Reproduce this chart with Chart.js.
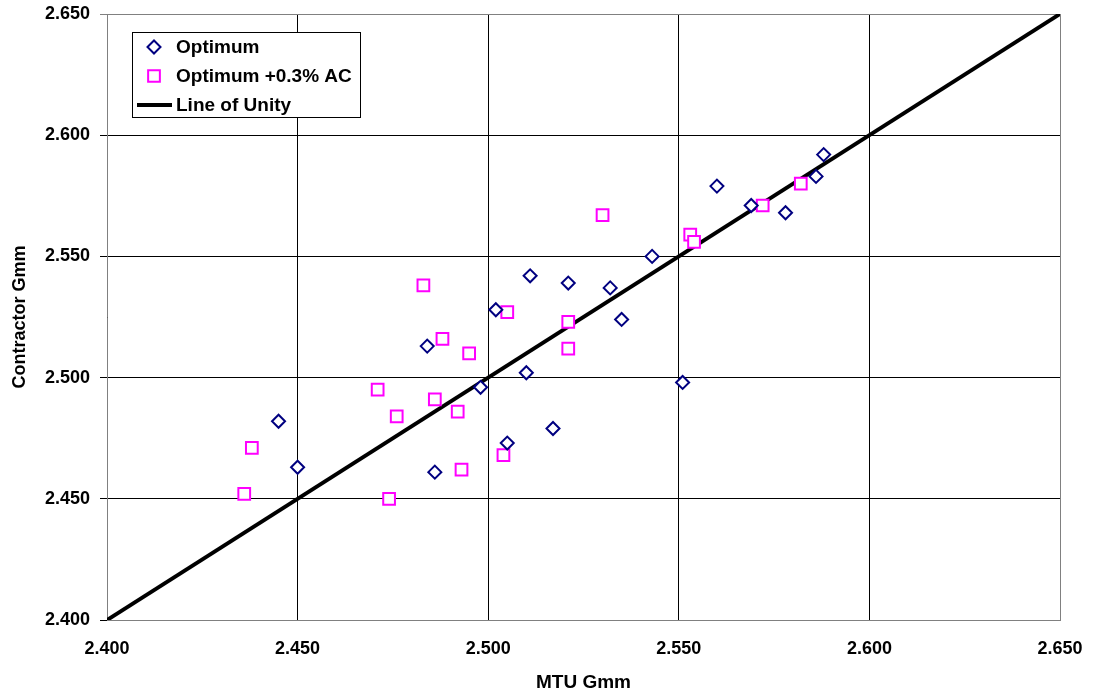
<!DOCTYPE html>
<html>
<head>
<meta charset="utf-8">
<script src="https://cdn.jsdelivr.net/npm/chart.js@4"></script>
<style>
  html, body { margin: 0; padding: 0; background: #fff; }
  #wrap { width: 1093px; height: 696px; position: relative; }
</style>
</head>
<body>
<div id="wrap"><canvas id="gmmChart"></canvas></div>
<script>
// Optimum (diamonds)
const optimumX = [2.445, 2.450, 2.486, 2.484, 2.498, 2.502, 2.505, 2.510, 2.511, 2.517,
                  2.521, 2.532, 2.535, 2.543, 2.551, 2.560, 2.569, 2.578, 2.586, 2.588];
const optimumY = [2.482, 2.463, 2.461, 2.513, 2.496, 2.528, 2.473, 2.502, 2.542, 2.479,
                  2.539, 2.537, 2.524, 2.550, 2.498, 2.579, 2.571, 2.568, 2.583, 2.592];

// Optimum +0.3% AC (squares)
const plusX = [2.436, 2.438, 2.471, 2.474, 2.476, 2.483, 2.486, 2.488, 2.492, 2.493,
               2.495, 2.504, 2.505, 2.521, 2.521, 2.530, 2.553, 2.554, 2.572, 2.582];
const plusY = [2.452, 2.471, 2.495, 2.450, 2.484, 2.538, 2.491, 2.516, 2.486, 2.462,
               2.510, 2.468, 2.527, 2.523, 2.512, 2.567, 2.559, 2.556, 2.571, 2.580];

// Line of unity end points
const unityX = [2.400, 2.650];
const unityY = [2.400, 2.650];

// Axis ticks
const tickValues = [2.400, 2.450, 2.500, 2.550, 2.600, 2.650];

const toPoints = (xs, ys) => xs.map((x, i) => ({ x: x, y: ys[i] }));

const tickFont = { family: 'Liberation Sans, Arial, sans-serif', size: 18, weight: 'bold' };
const xTitleFont = { family: 'Liberation Sans, Arial, sans-serif', size: 19, weight: 'bold' };
const yTitleFont = { family: 'Liberation Sans, Arial, sans-serif', size: 18, weight: 'bold' };

const edgeGray = '#808080';
function gridColor(ctx) {
  // outer frame lines are gray, inner grid black
  const v = ctx.tick ? ctx.tick.value : null;
  if (v !== null && Math.abs(v - 2.65) < 1e-6) return edgeGray;
  return '#000000';
}

// Legend box drawn inside the plot area, like the original
const insideLegend = {
  id: 'insideLegend',
  afterDraw(chart) {
    const ctx = chart.ctx;
    const boxX = 132, boxY = 32, boxW = 228, boxH = 85;
    ctx.save();
    ctx.fillStyle = '#ffffff';
    ctx.fillRect(boxX, boxY, boxW, boxH);
    ctx.strokeStyle = '#000000';
    ctx.lineWidth = 1;
    ctx.strokeRect(boxX + 0.5, boxY + 0.5, boxW, boxH);

    const items = [
      { label: 'Optimum', ds: chart.data.datasets[0], y: 47 },
      { label: 'Optimum +0.3% AC', ds: chart.data.datasets[1], y: 76 },
      { label: 'Line of Unity', ds: chart.data.datasets[2], y: 105 }
    ];
    items.forEach(item => {
      if (item.ds.type === 'line') {
        ctx.strokeStyle = item.ds.borderColor;
        ctx.lineWidth = item.ds.borderWidth;
        ctx.beginPath();
        ctx.moveTo(137, item.y);
        ctx.lineTo(172, item.y);
        ctx.stroke();
      } else {
        ctx.fillStyle = item.ds.pointBackgroundColor;
        ctx.strokeStyle = item.ds.borderColor;
        ctx.lineWidth = item.ds.borderWidth;
        Chart.helpers.drawPoint(ctx, {
          pointStyle: item.ds.pointStyle,
          radius: item.ds.pointRadius,
          borderWidth: item.ds.borderWidth,
          rotation: 0
        }, 154, item.y);
      }
      ctx.fillStyle = '#000000';
      ctx.font = 'bold 19px "Liberation Sans", Arial, sans-serif';
      ctx.textBaseline = 'middle';
      ctx.textAlign = 'left';
      ctx.fillText(item.label, 176, item.y + 1);
    });
    ctx.restore();
  }
};

const ctx = document.getElementById('gmmChart').getContext('2d');
new Chart(ctx, {
  type: 'scatter',
  data: {
    datasets: [
      {
        label: 'Optimum',
        data: toPoints(optimumX, optimumY),
        pointStyle: 'rectRot',
        pointRadius: 6.5,
        pointHoverRadius: 6.5,
        borderColor: '#000080',
        backgroundColor: '#ffffff',
        pointBackgroundColor: '#ffffff',
        borderWidth: 2,
        order: 1
      },
      {
        label: 'Optimum +0.3% AC',
        data: toPoints(plusX, plusY),
        pointStyle: 'rect',
        pointRadius: 8.3,
        pointHoverRadius: 8.3,
        borderColor: '#ff00ff',
        backgroundColor: '#ffffff',
        pointBackgroundColor: '#ffffff',
        borderWidth: 2,
        order: 2
      },
      {
        type: 'line',
        label: 'Line of Unity',
        data: toPoints(unityX, unityY),
        borderColor: '#000000',
        borderWidth: 4,
        pointRadius: 0,
        fill: false,
        order: 3
      }
    ]
  },
  options: {
    responsive: true,
    maintainAspectRatio: false,
    animation: false,
    layout: { padding: { top: 14, right: 33, left: 0, bottom: 0 } },
    plugins: {
      legend: { display: false },
      tooltip: { enabled: false }
    },
    scales: {
      x: {
        type: 'linear',
        min: 2.4,
        max: 2.65,
        afterBuildTicks: axis => { axis.ticks = tickValues.map(v => ({ value: v })); },
        afterFit: scale => {
          scale.height = 76;
          scale.paddingLeft = 0;
          scale.paddingRight = 0;
        },
        ticks: {
          color: '#000',
          font: tickFont,
          padding: 18,
          maxRotation: 0,
          callback: v => Number(v).toFixed(3)
        },
        grid: { color: gridColor, lineWidth: 1, drawTicks: false },
        border: { color: edgeGray, width: 1 },
        title: { display: true, text: 'MTU Gmm', color: '#000', font: xTitleFont, padding: { top: 0, bottom: 2 } }
      },
      y: {
        type: 'linear',
        min: 2.4,
        max: 2.65,
        afterBuildTicks: axis => { axis.ticks = tickValues.map(v => ({ value: v })); },
        afterFit: scale => {
          scale.width = 107;
          scale.paddingTop = 0;
          scale.paddingBottom = 0;
        },
        ticks: {
          color: '#000',
          font: tickFont,
          padding: 10,
          callback: v => Number(v).toFixed(3)
        },
        grid: { color: gridColor, lineWidth: 1, drawTicks: true, tickLength: 7 },
        border: { color: edgeGray, width: 1 },
        title: { display: true, text: 'Contractor Gmm', color: '#000', font: yTitleFont, padding: { top: 9, bottom: 0 } }
      }
    }
  },
  plugins: [insideLegend]
});
</script>
</body>
</html>
